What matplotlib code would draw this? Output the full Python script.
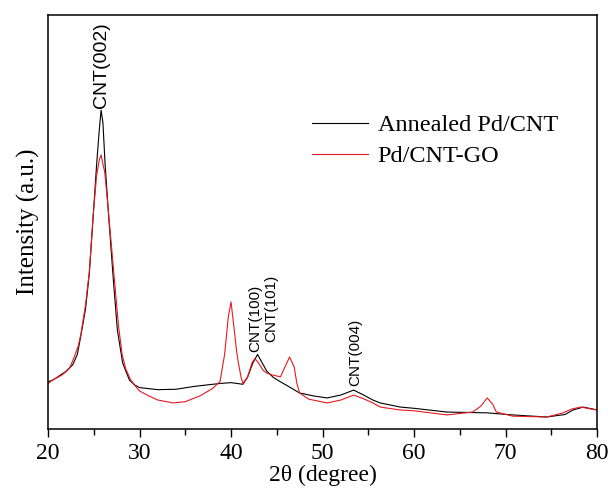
import numpy as np
import matplotlib
matplotlib.use("Agg")
import matplotlib.pyplot as plt
from matplotlib.ticker import MultipleLocator

# XRD patterns (2theta in degree, intensity in arbitrary units)
theta_annealed = [20.0, 20.5, 21.0, 22.0, 22.7, 23.2, 23.57, 24.1, 24.52, 24.96, 25.32, 25.6, 25.8,
                  26.0, 26.23, 26.6, 27.14, 27.58, 28.16, 28.9, 29.5, 30.0, 32.0, 34.0, 36.0, 38.0,
                  38.8, 40.0, 41.3, 41.8, 42.4, 42.9, 43.4, 43.9, 44.6, 45.4, 46.5, 47.5, 49.0, 50.5,
                  52.0, 53.4, 54.5, 55.5, 56.3, 58.5, 60.0, 63.6, 68.0, 70.8, 74.5, 76.5, 77.4, 78.5, 80.0]
int_annealed = [11.4, 11.8, 12.5, 14.0, 15.5, 18.0, 22.3, 29.0, 37.7, 52.2, 64.2, 72.2, 77.0,
                74.0, 64.2, 52.2, 36.0, 23.9, 15.9, 11.8, 10.6, 10.0, 9.5, 9.6, 10.3, 10.8,
                11.0, 11.2, 10.8, 12.5, 16.0, 18.0, 16.0, 14.0, 12.5, 11.4, 10.0, 8.7, 8.0, 7.5,
                8.2, 9.4, 8.2, 7.0, 6.3, 5.3, 5.0, 4.1, 3.9, 3.4, 2.9, 3.5, 4.6, 5.3, 4.6]

theta_go = [20.0, 20.5, 21.5, 22.3, 22.8, 23.3, 23.6, 24.1, 24.5, 24.95, 25.3, 25.6, 25.8, 26.0,
            26.2, 26.5, 26.9, 27.3, 27.7, 28.1, 28.5, 29.0, 29.5, 30.0, 31.0, 32.0, 33.7, 35.0,
            36.6, 38.0, 38.8, 39.3, 39.7, 40.0, 40.3, 40.6, 40.8, 41.1, 41.3, 41.8, 42.3, 42.6,
            43.0, 43.5, 43.9, 44.6, 45.4, 45.9, 46.4, 46.9, 47.2, 47.5, 48.5, 50.5, 52.0, 53.4,
            54.5, 55.5, 56.3, 58.5, 60.0, 63.6, 66.4, 67.3, 68.0, 68.6, 69.0, 70.8, 74.5, 76.3,
            77.2, 78.2, 79.2, 80.0]
int_go = [11.0, 11.8, 13.0, 14.5, 17.0, 20.0, 23.0, 30.0, 37.7, 52.0, 61.0, 65.0, 66.2, 64.0,
          62.0, 55.0, 45.0, 35.0, 25.0, 18.0, 14.5, 12.0, 10.5, 9.2, 8.0, 7.0, 6.3, 6.6,
          8.0, 9.8, 11.5, 18.0, 27.0, 30.7, 25.0, 19.0, 16.0, 12.5, 11.0, 12.5, 16.0, 17.0,
          16.0, 14.2, 13.5, 13.0, 12.6, 15.0, 17.4, 15.0, 11.0, 8.7, 7.2, 6.3, 7.0, 8.2,
          7.3, 6.3, 5.3, 4.6, 4.4, 3.4, 4.1, 5.5, 7.5, 6.0, 4.1, 3.1, 2.9, 3.9,
          4.8, 5.3, 4.9, 4.6]

# peak labels: text, 2theta, bottom of label
peak_names = ["CNT(002)", "CNT(100)", "CNT(101)", "CNT(004)"]
peak_theta = [25.8, 42.6, 44.4, 53.55]
peak_base = [77.5, 18.5, 21.0, 10.5]
peak_size = [14, 11, 11, 11]

serif = "Liberation Serif"
sans = "Liberation Sans"

fig = plt.figure(figsize=(6.11, 4.97), dpi=100)
ax = fig.add_axes([0.0786, 0.1368, 0.8985, 0.8332])

ax.plot(theta_annealed, int_annealed, color="black", linewidth=0.8, label="Annealed Pd/CNT")
ax.plot(theta_go, int_go, color="#e8191c", linewidth=0.8, label="Pd/CNT-GO")

for name, t, b, s in zip(peak_names, peak_theta, peak_base, peak_size):
    ax.text(t, b, name, rotation=90, ha="center", va="bottom", fontsize=s, family=sans)

ax.set_xlim(20, 80)
ax.set_ylim(0, 100)
ax.xaxis.set_major_locator(MultipleLocator(10))
ax.xaxis.set_minor_locator(MultipleLocator(5))
ax.set_yticks([])
ax.tick_params(axis="x", which="major", direction="out", length=6, width=1, labelsize=17, pad=4)
ax.tick_params(axis="x", which="minor", direction="out", length=4, width=1)
for lab in ax.get_xticklabels():
    lab.set_family(serif)
for sp in ax.spines.values():
    sp.set_linewidth(1.1)

ax.set_xlabel("2θ (degree)", fontsize=17, family=serif, labelpad=1)
ax.set_ylabel("Intensity (a.u.)", fontsize=18, family=serif, labelpad=6)

ax.legend(loc="upper left", bbox_to_anchor=(0.481, 0.760), frameon=False,
          prop={"family": serif, "size": 17.5}, handlelength=2.3, handletextpad=0.4,
          borderpad=0, borderaxespad=0, labelspacing=0.37)

fig.savefig("out.png", dpi=100)
